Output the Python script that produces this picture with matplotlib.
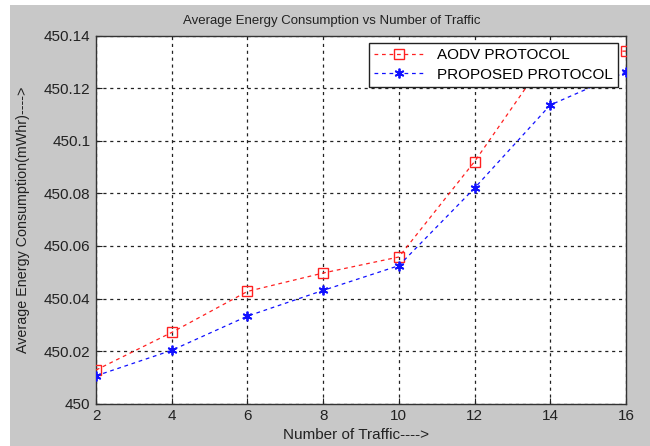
import matplotlib.pyplot as plt
from matplotlib.patches import Rectangle

traffic = [2, 4, 6, 8, 10, 12, 14, 16]
aodv = [450.0128, 450.0271, 450.0427, 450.0497, 450.0558, 450.0921, 450.1335, 450.1341]
proposed = [450.0106, 450.0203, 450.0333, 450.0431, 450.0525, 450.0820, 450.1136, 450.1262]

y_ticks = [450.0, 450.02, 450.04, 450.06, 450.08, 450.10, 450.12, 450.14]
y_labels = ["450", "450.02", "450.04", "450.06", "450.08", "450.1", "450.12", "450.14"]
x_ticks = [2, 4, 6, 8, 10, 12, 14, 16]

plt.rcParams['font.family'] = ['Liberation Sans', 'DejaVu Sans']

fig = plt.figure(figsize=(6.5, 4.46), dpi=100, facecolor='white')
# gray matlab-style window background, with the thin white strip at top/left
fig.patches.append(Rectangle((10 / 650, 0), 1, 1 - 5 / 446, transform=fig.transFigure,
                             facecolor='#c8c8c8', edgecolor='none', zorder=-10))

ax = fig.add_axes([96 / 650, 1 - 403.7 / 446, 530 / 650, 368.1 / 446])
ax.set_facecolor('white')

ax.plot(traffic, aodv, color='#ff2020', linestyle='--', dashes=(3, 3), lw=0.9,
        marker='s', markersize=6.5, markerfacecolor='none', markeredgewidth=1.0,
        label='AODV PROTOCOL', zorder=3)
ax.plot(traffic, proposed, color='#1010ff', linestyle='--', dashes=(3, 3), lw=0.9,
        marker=(6, 2, 0), markersize=7, markeredgewidth=1.3,
        label='PROPOSED PROTOCOL', zorder=3)

ax.set_xlim(2, 16)
ax.set_ylim(450.0, 450.14)
ax.set_xticks(x_ticks)
ax.set_yticks(y_ticks)
ax.set_yticklabels(y_labels)
ax.tick_params(direction='in', length=4, labelsize=11, colors='#222222', pad=4)
ax.grid(True, color='#222222', linestyle=(0, (2.5, 3)), lw=0.9)
for sp in ax.spines.values():
    sp.set_color('#333333')
    sp.set_linewidth(1.0)

ax.set_title('Average Energy Consumption vs Number of Traffic', fontsize=9.5,
             color='#222222', pad=8, x=0.445)
ax.set_xlabel('Number of Traffic---->', fontsize=11, color='#222222', labelpad=2)
ax.xaxis.set_label_coords(0.49, -0.065)
ax.set_ylabel('Average Energy Consumption(mWhr)---->', fontsize=10.3, color='#222222')
ax.yaxis.set_label_coords(-0.125, 0.5)

leg = ax.legend(loc='upper right', bbox_to_anchor=(0.985, 0.98), fontsize=11,
                fancybox=False, framealpha=1, edgecolor='#222222', borderpad=0.35,
                labelspacing=0.35, handlelength=3.3, borderaxespad=0)
leg.get_frame().set_linewidth(1.0)
leg.set_zorder(5)

fig.savefig('out.png', dpi=100)
